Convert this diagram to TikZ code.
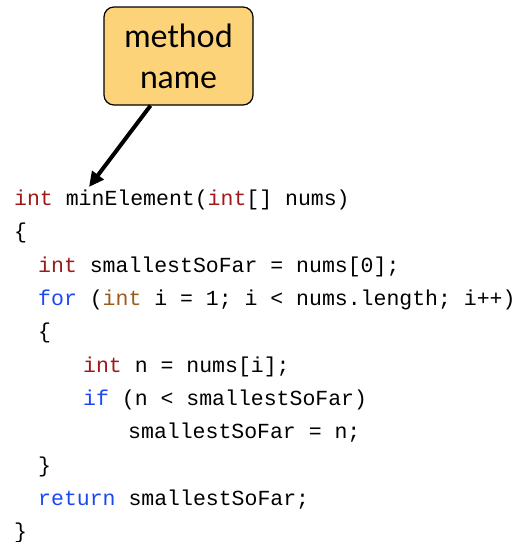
\documentclass[tikz,border=0pt]{standalone}
\usepackage{fontspec}
\setmainfont{Lato}
\setmonofont{Liberation Mono}
\usepackage{tikz}
\usetikzlibrary{arrows.meta}

\definecolor{typered}{HTML}{9E1A1A}
\definecolor{keyblue}{HTML}{1A47F5}
\definecolor{loopbrown}{HTML}{9C5A1A}
\definecolor{notefill}{HTML}{FDD37A}

\newcommand{\tint}{\textcolor{typered}{int}}
\newcommand{\kw}[1]{\textcolor{keyblue}{#1}}

\tikzset{
    code/.style={anchor=west, inner sep=0pt, font=\ttfamily\fontsize{21.5}{25}\selectfont},
    note/.style={draw=black, line width=1.2pt, fill=notefill, rounded corners=10pt,
        minimum width=149pt, minimum height=98pt, align=center,
        font=\fontsize{32}{41}\selectfont}
}

\begin{document}
\begin{tikzpicture}[x=1pt, y=-1pt]
    \useasboundingbox (0,0) rectangle (522,542);

    \node[note] (name) at (178.5,56) {method\\name};

    \node[code] (sig) at (14,200) {\tint{} minElement(\tint[] nums)};
    \node[code] (open) at (14,233) {\{};
    \node[code] (init) at (38,267) {\tint{} smallestSoFar = nums[0];};
    \node[code] (loop) at (38,300) {\kw{for} (\textcolor{loopbrown}{int} i = 1; i < nums.length; i++)};
    \node[code] (lopen) at (38,333) {\{};
    \node[code] (getn) at (83,367) {\tint{} n = nums[i];};
    \node[code] (test) at (83,400) {\kw{if} (n < smallestSoFar)};
    \node[code] (assign) at (128,433) {smallestSoFar = n;};
    \node[code] (lclose) at (38,467) {\}};
    \node[code] (ret) at (38,500) {\kw{return} smallestSoFar;};
    \node[code] (close) at (14,533) {\}};

    % pointer to the method name
    \coordinate (tip) at (89,187);
    \draw[-{Triangle[length=15pt, width=14pt]}, line width=4pt] (name.south) ++(-28,0) -- (tip);

\end{tikzpicture}
\end{document}
